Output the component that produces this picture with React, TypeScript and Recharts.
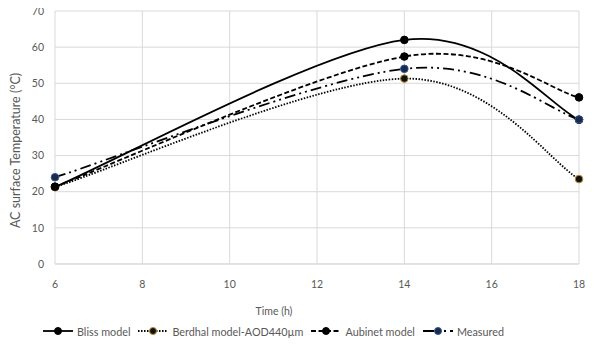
import { CartesianGrid, Label, Line, LineChart, XAxis, YAxis } from "recharts";

const hours = [6, 14, 18];
const blissModel = [21.3, 62, 39.9];
const berdhalModel = [21.3, 51.3, 23.5];
const aubinetModel = [21.4, 57.4, 46.1];
const measured = [24, 54, 40];
const xTicks = [6, 8, 10, 12, 14, 16, 18];
const yTicks = [0, 10, 20, 30, 40, 50, 60, 70];

const chartData = hours.map((h, i) => ({
  time: h,
  bliss: blissModel[i],
  berdhal: berdhalModel[i],
  aubinet: aubinetModel[i],
  measured: measured[i],
}));

type Series = {
  key: string;
  name: string;
  dash?: string;
  fill: string;
  edge: string;
};

const series: Series[] = [
  { key: "bliss", name: "Bliss model", fill: "#000", edge: "#000" },
  { key: "berdhal", name: "Berdhal model-AOD440µm", dash: "1.5 1.5", fill: "#111", edge: "#b8902a" },
  { key: "aubinet", name: "Aubinet model", dash: "5 2.5", fill: "#000", edge: "#000" },
  { key: "measured", name: "Measured", dash: "11 4 2 4 2 4", fill: "#1b2a48", edge: "#2f5597" },
];

// smoothing like a spreadsheet "smoothed line": bezier with tangents (p[i+1]-p[i-1])/6
const smoothCurve = (ctx: any) => {
  let pts: number[][] = [];
  return {
    areaStart() {},
    areaEnd() {},
    lineStart() {
      pts = [];
    },
    point(x: number, y: number) {
      pts.push([+x, +y]);
    },
    lineEnd() {
      if (!pts.length) return;
      ctx.moveTo(pts[0][0], pts[0][1]);
      for (let i = 0; i < pts.length - 1; i++) {
        const p0 = pts[i - 1] || pts[i];
        const p1 = pts[i];
        const p2 = pts[i + 1];
        const p3 = pts[i + 2] || pts[i + 1];
        ctx.bezierCurveTo(
          p1[0] + (p2[0] - p0[0]) / 6,
          p1[1] + (p2[1] - p0[1]) / 6,
          p2[0] - (p3[0] - p1[0]) / 6,
          p2[1] - (p3[1] - p1[1]) / 6,
          p2[0],
          p2[1]
        );
      }
    },
  };
};

const font = "Lato, 'Open Sans', sans-serif";
const textColor = "#595959";

const LegendRow = () => (
  <div
    style={{
      position: "absolute",
      top: 324,
      left: 43,
      display: "flex",
      alignItems: "center",
      fontFamily: font,
      fontSize: 10.8,
      color: textColor,
      whiteSpace: "nowrap",
    }}
  >
    {series.map((s) => (
      <div key={s.key} style={{ display: "flex", alignItems: "center", marginRight: 8 }}>
        <svg width={30} height={14} style={{ marginRight: 4 }}>
          <line x1={0} y1={7} x2={30} y2={7} stroke="#000" strokeWidth={1.8} strokeDasharray={s.dash} />
          <circle cx={15} cy={7} r={3.5} fill={s.fill} stroke={s.edge} strokeWidth={1} />
        </svg>
        <span>{s.name}</span>
      </div>
    ))}
  </div>
);

const App = () => {
  return (
    <div style={{ position: "relative", width: 606, height: 362, margin: -8, background: "#fff" }}>
      <div
        style={{
          position: "absolute",
          left: 5,
          top: 5,
          width: 594,
          height: 352,
          border: "1px solid #d9d9d9",
          boxSizing: "border-box",
        }}
      />
      <LineChart
        width={606}
        height={362}
        data={chartData}
        margin={{ top: 11, right: 27, left: 0, bottom: 38 }}
        style={{ position: "absolute", left: 0, top: 0 }}
      >
        <CartesianGrid stroke="#d9d9d9" strokeWidth={1} />
        <XAxis
          dataKey="time"
          type="number"
          domain={[6, 18]}
          ticks={xTicks}
          height={60}
          tickLine={false}
          tickSize={0}
          tickMargin={17}
          axisLine={{ stroke: "#d9d9d9" }}
          tick={{ fill: textColor, fontSize: 10.5, fontFamily: font }}
        >
          <Label
            value="Time (h)"
            position="insideTop"
            offset={44}
            dx={-43}
            style={{ fill: textColor, fontSize: 10.5, fontFamily: font }}
          />
        </XAxis>
        <YAxis
          type="number"
          domain={[0, 70]}
          ticks={yTicks}
          width={55}
          tickLine={false}
          axisLine={false}
          tickSize={0}
          tickMargin={11}
          tick={{ fill: textColor, fontSize: 10.5, fontFamily: font }}
        >
          <Label
            value="AC surface Temperature (°C)"
            angle={-90}
            position="insideLeft"
            offset={16}
            dy={13}
            style={{ fill: textColor, fontSize: 12.5, fontFamily: font, textAnchor: "middle" }}
          />
        </YAxis>
        {series.map((s) => (
          <Line
            key={s.key}
            dataKey={s.key}
            name={s.name}
            type={smoothCurve as any}
            stroke="#000"
            strokeWidth={1.8}
            strokeDasharray={s.dash}
            dot={{ r: 3.8, fill: s.fill, stroke: s.edge, strokeWidth: 1, strokeDasharray: "" }}
            activeDot={false}
            isAnimationActive={false}
          />
        ))}
      </LineChart>
      <LegendRow />
    </div>
  );
};

export default App;
